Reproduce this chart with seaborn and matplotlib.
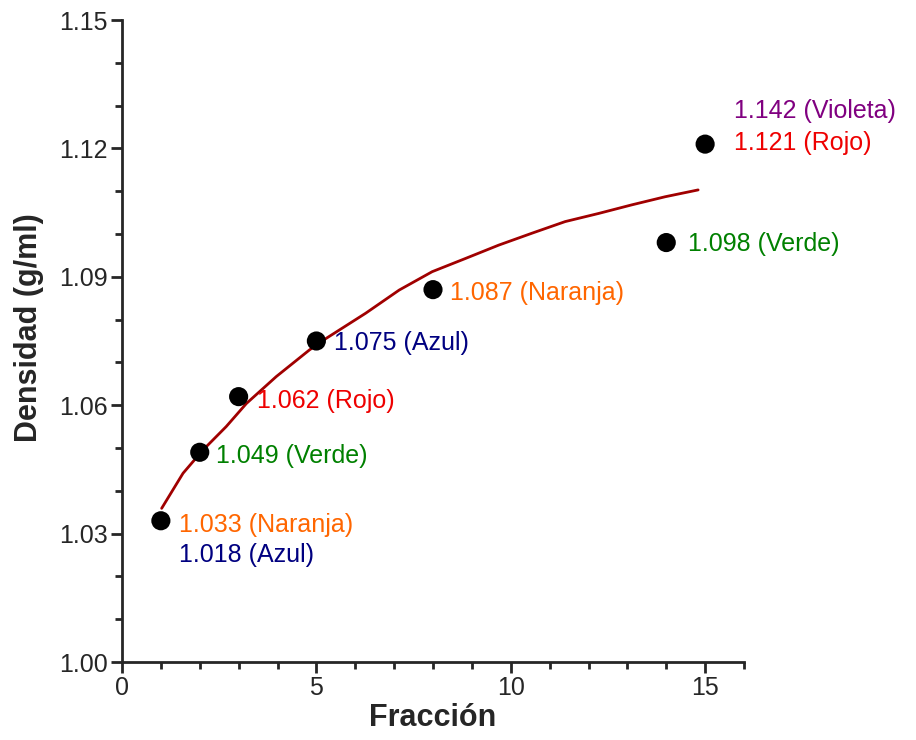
import matplotlib
matplotlib.use("Agg")
import matplotlib.pyplot as plt
import seaborn as sns
import pandas as pd
from matplotlib.ticker import FixedLocator, FormatStrFormatter

# Data
fraccion = [1, 2, 3, 5, 8, 14, 15]
densidad = [1.033, 1.049, 1.062, 1.075, 1.087, 1.098, 1.121]

curve_x = [1.02, 1.57, 2.08, 2.68, 3.20, 3.97, 4.82, 5.25, 6.27, 7.13, 7.98, 8.84,
           9.69, 10.55, 11.40, 12.26, 13.11, 13.97, 14.82]
curve_y = [1.0359, 1.0441, 1.0495, 1.0550, 1.0604, 1.0667, 1.0729, 1.0756, 1.0815,
           1.0869, 1.0912, 1.0943, 1.0974, 1.1002, 1.1029, 1.1048, 1.1068, 1.1087,
           1.1103]

x_ticks = [0, 5, 10, 15]
y_ticks = [1.00, 1.03, 1.06, 1.09, 1.12, 1.15]

# Labels attached to points
label_point = [0, 0, 1, 2, 3, 4, 5, 6, 6]
label_text = ["1.033 (Naranja)", "1.018 (Azul)", "1.049 (Verde)", "1.062 (Rojo)",
              "1.075 (Azul)", "1.087 (Naranja)", "1.098 (Verde)", "1.121 (Rojo)",
              "1.142 (Violeta)"]
label_color = ["#FF6600", "#000080", "#008000", "#EE0000", "#000080", "#FF6600",
               "#008000", "#EE0000", "#800080"]
label_offset = [(18, -4), (18, -34), (16, -4), (18, -4), (18, -2), (17, -3),
                (22, -1), (29, 1), (29, 33)]

xlabel = "Fracción"
ylabel = "Densidad (g/ml)"

sns.set_style("ticks")
plt.rcParams['font.family'] = ['Liberation Sans', 'DejaVu Sans']

fig = plt.figure(figsize=(9.16, 7.4), dpi=100)
ax = fig.add_axes([122/916, 1 - 662/740, (744-122)/916, (662-20)/740])

df_c = pd.DataFrame({"x": curve_x, "y": curve_y})
sns.lineplot(data=df_c, x="x", y="y", ax=ax, color="#A00000", linewidth=2.0,
             sort=True, estimator=None)
df_p = pd.DataFrame({"x": fraccion, "y": densidad})
sns.scatterplot(data=df_p, x="x", y="y", ax=ax, color="black", s=190,
                edgecolor="none", zorder=5)

for i, t, c, off in zip(label_point, label_text, label_color, label_offset):
    ax.annotate(t, (fraccion[i], densidad[i]), xytext=off,
                textcoords="offset pixels", color=c, fontsize=18,
                ha="left", va="center")

ax.set_xlim(0, 16)
ax.set_ylim(1.00, 1.15)
ax.xaxis.set_major_locator(FixedLocator(x_ticks))
ax.xaxis.set_minor_locator(FixedLocator([v for v in range(0, 17)]))
ax.yaxis.set_major_locator(FixedLocator(y_ticks))
ax.yaxis.set_minor_locator(FixedLocator([round(1.0 + 0.01 * k, 2) for k in range(16)]))
ax.yaxis.set_major_formatter(FormatStrFormatter("%.2f"))

for s in ["top", "right"]:
    ax.spines[s].set_visible(False)
for s in ["left", "bottom"]:
    ax.spines[s].set_linewidth(2)

ax.tick_params(which="major", length=8, width=2, labelsize=18, direction="out", pad=2)
ax.tick_params(which="minor", length=5, width=2, direction="out")

lab_font = dict(family=['Liberation Sans Narrow', 'Liberation Sans', 'DejaVu Sans'],
                fontweight="bold", fontsize=22)
ax.set_xlabel(xlabel, labelpad=2, **lab_font)
ax.set_ylabel(ylabel, **lab_font)
ax.yaxis.set_label_coords(-0.126, 0.521)

fig.savefig("out.png", dpi=100)
